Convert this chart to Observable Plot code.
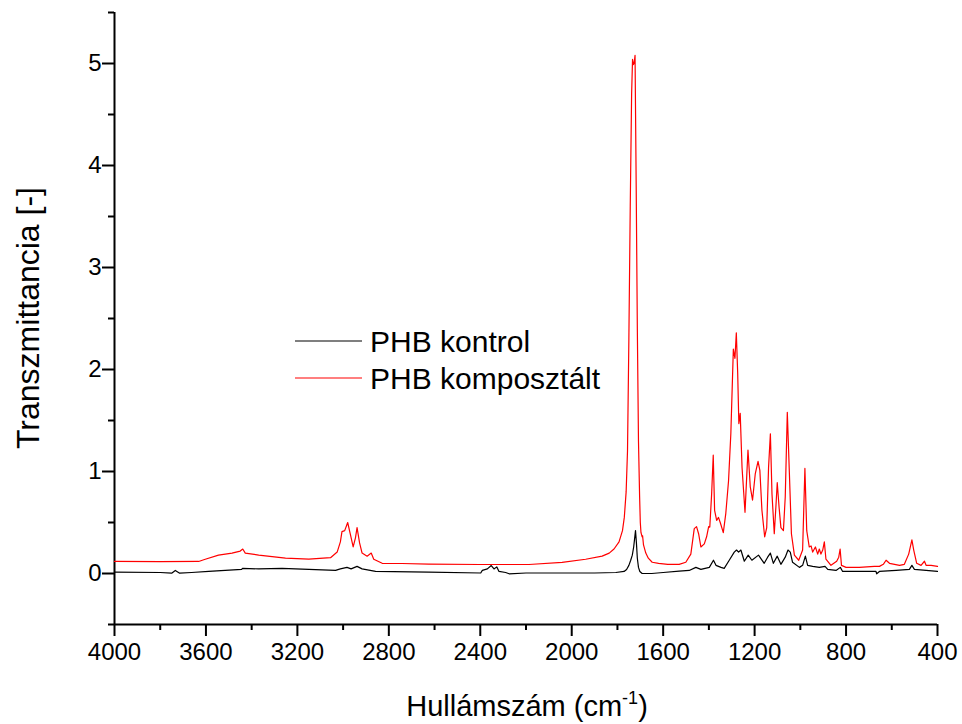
<!DOCTYPE html>
<html>
<head>
<meta charset="utf-8">
<script src="https://cdn.jsdelivr.net/npm/d3@7"></script>
<script src="https://cdn.jsdelivr.net/npm/@observablehq/plot@0.6"></script>
<style>
  html, body { margin: 0; padding: 0; background: #fff; }
  #chart { width: 962px; height: 724px; }
</style>
</head>
<body>
<div id="chart"></div>
<script>
// ---- Data ----
const seriesNames = ["PHB kontrol", "PHB komposztált"];
const seriesColors = ["#000000", "#ff0000"];

const xMajorTicks = [4000, 3600, 3200, 2800, 2400, 2000, 1600, 1200, 800, 400];
const xMinorTicks = [3800, 3400, 3000, 2600, 2200, 1800, 1400, 1000, 600];
const yMajorTicks = [0, 1, 2, 3, 4, 5];
const yMinorTicks = [-0.5, 0.5, 1.5, 2.5, 3.5, 4.5, 5.5];

// PHB kontrol (black)
const kontrolWn = [4000, 3800, 3750, 3734, 3715, 3663, 3588, 3444, 3440, 3369, 3267, 3150, 3033, 3012, 2983, 2965, 2939, 2917, 2858, 2625,
  2398, 2391, 2369, 2352, 2340, 2328, 2318, 2289, 2274, 2200, 1900, 1807, 1771, 1760, 1750, 1742, 1735, 1729, 1725, 1721, 1717, 1713, 1708, 1702, 1692, 1650, 1600,
  1530, 1486, 1457, 1435, 1398, 1380, 1369, 1347, 1333, 1311, 1289, 1279, 1270, 1260, 1245, 1228, 1212, 1183, 1158, 1143, 1131, 1118, 1101, 1085, 1066, 1054, 1044, 1034,
  1004, 990, 978, 968, 946, 917, 892, 880, 844, 825, 815, 727, 669, 666, 654, 581, 523, 512, 501, 450, 400];
const kontrolVal = [0.013, 0.01, 0.003, 0.03, 0.003, 0.01, 0.02, 0.04, 0.05, 0.045, 0.05, 0.04, 0.03, 0.045, 0.06, 0.045, 0.07, 0.045, 0.02, 0.013,
  0.005, 0.03, 0.045, 0.078, 0.045, 0.065, 0.02, 0.01, -0.003, 0.005, 0.005, 0.01, 0.02, 0.04, 0.08, 0.13, 0.18, 0.26, 0.34, 0.42, 0.30, 0.15, 0.06, 0.02, 0.0, 0.0, 0.01,
  0.023, 0.03, 0.06, 0.04, 0.06, 0.13, 0.08, 0.06, 0.05, 0.13, 0.21, 0.23, 0.21, 0.23, 0.12, 0.18, 0.13, 0.18, 0.10, 0.16, 0.20, 0.10, 0.17, 0.09, 0.16, 0.23, 0.21, 0.11,
  0.06, 0.08, 0.17, 0.08, 0.07, 0.06, 0.07, 0.04, 0.03, 0.06, 0.02, 0.02, 0.02, -0.003, 0.02, 0.03, 0.04, 0.08, 0.04, 0.03, 0.02];

// PHB komposztált (red)
const komposztWn = [4000, 3800, 3632, 3603, 3545, 3486, 3450, 3439, 3428, 3369, 3252, 3150, 3055, 3026, 3012, 3005, 2993, 2980, 2968, 2956, 2946, 2939, 2928, 2917, 2895, 2877, 2866, 2829, 2742, 2625,
  2400, 2187, 2042, 1939, 1867, 1836, 1815, 1793, 1778, 1770, 1762, 1756, 1750, 1744, 1738, 1734, 1730, 1727, 1723, 1718, 1713, 1708, 1703, 1700, 1697, 1692, 1690, 1686, 1676, 1665, 1648, 1620, 1580,
  1530, 1501, 1479, 1464, 1454, 1445, 1435, 1420, 1410, 1401, 1396, 1388, 1381, 1375, 1366, 1358, 1349, 1337, 1326, 1314, 1304, 1293, 1286, 1280, 1274, 1269, 1263, 1255, 1242,
  1229, 1219, 1209, 1197, 1185, 1177, 1168, 1156, 1147, 1139, 1131, 1124, 1114, 1107, 1101, 1093, 1085, 1074, 1066, 1057, 1048, 1039, 1026, 1007, 990, 980, 972, 961, 953, 946,
  934, 924, 917, 910, 902, 895, 888, 866, 841, 832, 826, 820, 800, 742, 676, 654, 637, 625, 610, 588, 566, 545, 526, 512, 504, 491, 472, 457, 450, 428, 400];
const komposztVal = [0.118, 0.117, 0.118, 0.14, 0.18, 0.20, 0.22, 0.24, 0.20, 0.18, 0.15, 0.14, 0.155, 0.21, 0.31, 0.41, 0.42, 0.50, 0.38, 0.26, 0.35, 0.45, 0.30, 0.20, 0.17, 0.20, 0.14, 0.10, 0.098, 0.092,
  0.088, 0.088, 0.11, 0.14, 0.17, 0.20, 0.24, 0.31, 0.42, 0.55, 0.8, 1.2, 2.3, 3.6, 4.7, 5.04, 4.99, 5.0, 5.08, 3.8, 2.4, 1.3, 0.75, 0.5, 0.4, 0.36, 0.37, 0.28, 0.2, 0.15, 0.11, 0.1, 0.09,
  0.09, 0.11, 0.19, 0.44, 0.46, 0.39, 0.26, 0.29, 0.36, 0.46, 0.455, 0.78, 1.16, 0.62, 0.52, 0.55, 0.49, 0.40, 0.59, 0.91, 1.37, 2.20, 2.11, 2.36, 1.96, 1.47, 1.57, 1.04, 0.60,
  1.21, 0.85, 0.72, 0.98, 1.10, 1.01, 0.62, 0.36, 0.45, 1.04, 1.37, 0.78, 0.39, 0.65, 0.89, 0.65, 0.45, 0.42, 0.75, 1.58, 0.99, 0.39, 0.18, 0.13, 0.23, 1.03, 0.42, 0.26, 0.27, 0.21,
  0.26, 0.19, 0.24, 0.19, 0.23, 0.31, 0.14, 0.08, 0.12, 0.16, 0.24, 0.08, 0.06, 0.06, 0.07, 0.07, 0.09, 0.13, 0.10, 0.09, 0.08, 0.09, 0.19, 0.33, 0.23, 0.10, 0.08, 0.12, 0.08, 0.08, 0.07];

// ---- Tables built from the arrays ----
const kontrol = kontrolWn.map((w, i) => ({wn: w, v: kontrolVal[i]}));
const komposzt = komposztWn.map((w, i) => ({wn: w, v: komposztVal[i]}));

const FONT = "'Liberation Sans', Arial, Helvetica, sans-serif";

const chart = Plot.plot({
  width: 962,
  height: 724,
  marginLeft: 114,
  marginRight: 25,
  marginTop: 12,
  marginBottom: 100,
  style: {fontFamily: FONT, fontSize: "24px", color: "#000", background: "#fff", overflow: "visible"},
  x: {domain: [4000, 400], label: null},
  y: {domain: [-0.5, 5.5], label: null},
  marks: [
    Plot.axisY(yMajorTicks, {tickSize: 12, tickPadding: 1, strokeWidth: 2, fontSize: 24, label: null, tickFormat: d => String(d)}),
    Plot.axisY(yMinorTicks, {tickSize: 6, strokeWidth: 2, text: null, label: null}),
    Plot.axisX(xMajorTicks, {tickSize: 12, tickPadding: 6, strokeWidth: 2, fontSize: 24, label: null, tickFormat: d => String(d)}),
    Plot.axisX(xMinorTicks, {tickSize: 6, strokeWidth: 2, text: null, label: null}),
    Plot.ruleX([4000], {stroke: "#000", strokeWidth: 2}),
    Plot.ruleY([-0.5], {stroke: "#000", strokeWidth: 2}),
    Plot.line(kontrol, {x: "wn", y: "v", stroke: seriesColors[0], strokeWidth: 1.2}),
    Plot.line(komposzt, {x: "wn", y: "v", stroke: seriesColors[1], strokeWidth: 1.2})
  ]
});

const svg = d3.select(chart);

// Tick thickness
svg.selectAll('g[aria-label$="-axis tick"]').attr("stroke-width", 2).attr("stroke", "#000");

// Y axis title
svg.append("text")
  .attr("transform", "translate(39,318) rotate(-90)")
  .attr("text-anchor", "middle")
  .attr("font-family", FONT)
  .attr("font-size", 32)
  .attr("fill", "#000")
  .text("Transzmittancia [-]");

// X axis title with superscript
const xt = svg.append("text")
  .attr("x", 527)
  .attr("y", 716)
  .attr("text-anchor", "middle")
  .attr("font-family", FONT)
  .attr("font-size", 29)
  .attr("fill", "#000");
xt.append("tspan").text("Hullámszám (cm");
xt.append("tspan").attr("font-size", 18).attr("dy", -12).text("-1");
xt.append("tspan").attr("dy", 12).text(")");

// Legend
const legendY = [341, 378];
seriesNames.forEach((name, i) => {
  svg.append("line")
    .attr("x1", 295).attr("x2", 362)
    .attr("y1", legendY[i]).attr("y2", legendY[i])
    .attr("stroke", seriesColors[i]).attr("stroke-width", 1.2);
  svg.append("text")
    .attr("x", 370).attr("y", legendY[i])
    .attr("dy", "0.35em")
    .attr("text-anchor", "start")
    .attr("font-family", FONT)
    .attr("font-size", 30)
    .attr("fill", "#000")
    .text(name);
});

document.getElementById("chart").appendChild(chart);
</script>
</body>
</html>
